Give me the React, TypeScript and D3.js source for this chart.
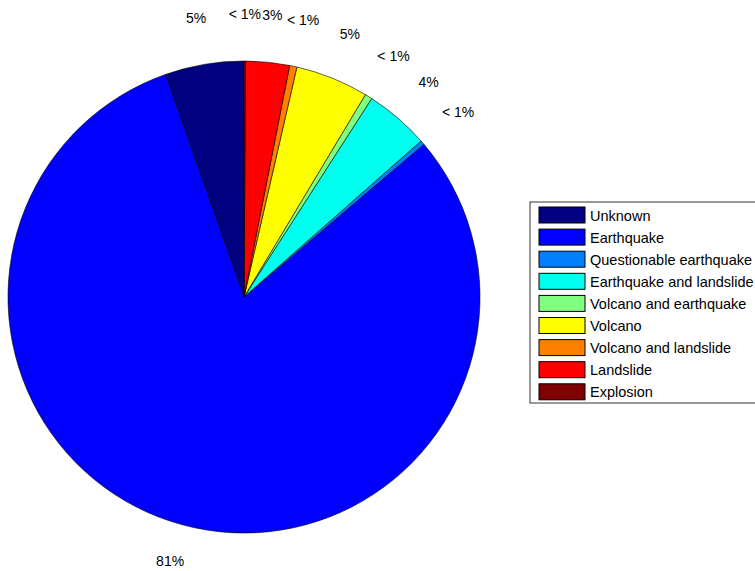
import React from "react";
import * as d3 from "d3";

const categories = [
  "Unknown",
  "Earthquake",
  "Questionable earthquake",
  "Earthquake and landslide",
  "Volcano and earthquake",
  "Volcano",
  "Volcano and landslide",
  "Landslide",
  "Explosion",
];
const values = [5.4, 80.8, 0.3, 4.4, 0.5, 5.0, 0.5, 3.0, 0.1];
const colors = [
  "#000080",
  "#0000ff",
  "#0080ff",
  "#00ffee",
  "#80ff80",
  "#ffff00",
  "#ff8000",
  "#ff0000",
  "#800000",
];

const width = 755;
const height = 571;
const cx = 244;
const cy = 297;
const radius = 236;

const pctLabel = (v: number, total: number) => {
  const p = (v / total) * 100;
  return p < 1 ? "< 1%" : `${Math.round(p)}%`;
};

const font = "Liberation Sans, Arial, sans-serif";

export default function App() {
  const total = d3.sum(values);
  // MATLAB-style: start at 12 o'clock, go counterclockwise
  const pie = d3
    .pie<number>()
    .sort(null)
    .startAngle(0)
    .endAngle(-2 * Math.PI);
  const arcs = pie(values);
  const arc = d3.arc<d3.PieArcDatum<number>>().innerRadius(0).outerRadius(radius);

  const legendX = 530;
  const legendY = 202;
  const rowH = 22.1;

  return (
    <div style={{ position: "fixed", left: 0, top: 0 }}>
      <svg width={width} height={height} style={{ display: "block", background: "#fff" }}>
        <g transform={`translate(${cx},${cy})`}>
          {arcs.map((a, i) => (
            <path key={i} d={arc(a) ?? ""} fill={colors[i]} stroke="#000" strokeWidth={0.6} />
          ))}
        </g>
        {/* percent labels at 1.2 r */}
        {arcs.map((a, i) => {
          const mid = (a.startAngle + a.endAngle) / 2;
          const r = radius * 1.2;
          const y = Math.min(cy - r * Math.cos(mid), height - 10);
          return (
            <text
              key={i}
              x={cx + r * Math.sin(mid)}
              y={y}
              textAnchor="middle"
              dominantBaseline="central"
              style={{ fontFamily: font, fontSize: 14, fill: "#000" }}
            >
              {pctLabel(a.data, total)}
            </text>
          );
        })}
        {/* legend */}
        <g transform={`translate(${legendX},${legendY})`}>
          <rect x={0} y={0} width={240} height={201} fill="#fff" stroke="#333" strokeWidth={1} />
          {categories.map((c, i) => (
            <g key={c} transform={`translate(0,${5 + i * rowH})`}>
              <rect x={9} y={0} width={46} height={16} fill={colors[i]} stroke="#000" strokeWidth={1} />
              <text
                x={60}
                y={8.5}
                dominantBaseline="central"
                style={{ fontFamily: font, fontSize: 14.5, fill: "#000" }}
              >
                {c}
              </text>
            </g>
          ))}
        </g>
      </svg>
    </div>
  );
}
